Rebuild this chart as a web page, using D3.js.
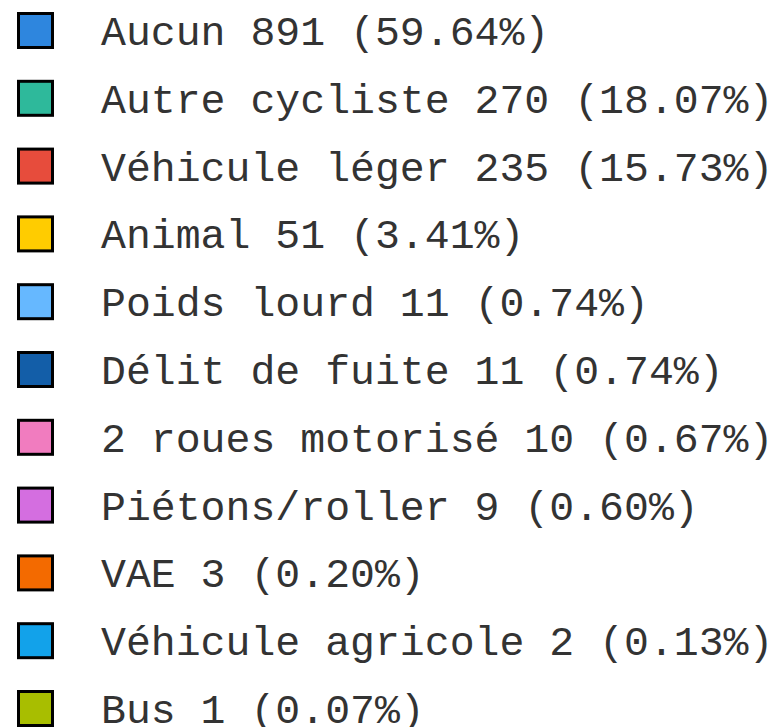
<!DOCTYPE html>
<html>
<head>
<meta charset="utf-8">
<script src="https://cdn.jsdelivr.net/npm/d3@7"></script>
<style>
  html, body { margin: 0; padding: 0; background: #fff; }
</style>
</head>
<body>
<div id="chart"></div>
<script>
// données de la légende
const categories = ["Aucun", "Autre cycliste", "Véhicule léger", "Animal", "Poids lourd",
  "Délit de fuite", "2 roues motorisé", "Piétons/roller", "VAE", "Véhicule agricole", "Bus"];
const counts = [891, 270, 235, 51, 11, 11, 10, 9, 3, 2, 1];
const percents = ["59.64", "18.07", "15.73", "3.41", "0.74", "0.74", "0.67", "0.60", "0.20", "0.13", "0.07"];
const colors = ["#2e86de", "#2eb99b", "#e74c3c", "#ffcc00", "#66b8ff", "#135ea8",
  "#f17cbf", "#d46ee0", "#f36a00", "#12a2ea", "#a8be00"];

const width = 776, height = 727;

const svg = d3.select("#chart")
  .append("svg")
  .attr("width", width)
  .attr("height", height);

// position verticale de chaque ligne
const y = d3.scalePoint()
  .domain(categories)
  .range([31, 709]);

const color = d3.scaleOrdinal()
  .domain(categories)
  .range(colors);

const items = svg.selectAll(".legend-item")
  .data(categories)
  .enter()
  .append("g")
  .attr("class", "legend-item")
  .attr("transform", d => `translate(0, ${y(d)})`);

items.append("rect")
  .attr("x", 18.5)
  .attr("y", -17.5)
  .attr("width", 34)
  .attr("height", 34)
  .attr("fill", d => color(d))
  .attr("stroke", "#000")
  .attr("stroke-width", 3);

items.append("text")
  .attr("x", 101)
  .attr("y", 14)
  .style("font-family", "'Courier New', 'Liberation Mono', monospace")
  .style("font-size", "41.5px")
  .style("fill", "#333")
  .text((d, i) => `${d} ${counts[i]} (${percents[i]}%)`);
</script>
</body>
</html>
